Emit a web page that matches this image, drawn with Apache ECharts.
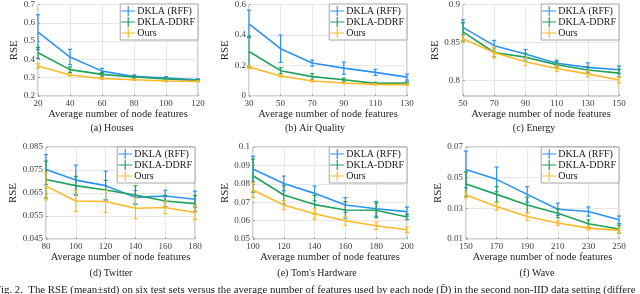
<!DOCTYPE html>
<html><head><meta charset="utf-8">
<script src="https://cdn.jsdelivr.net/npm/echarts@6/dist/echarts.min.js"></script>
<style>html,body{margin:0;padding:0;background:#fff}#c{width:640px;height:294px}</style>
</head><body><div id="c"></div>
<script>
// ---------- data ----------
const seriesNames = ['DKLA (RFF)', 'DKLA-DDRF', 'Ours'];
const captions = ['(a) Houses', '(b) Air Quality', '(c) Energy', '(d) Twitter', "(e) Tom's Hardware", '(f) Wave'];
const xLabelText = 'Average number of node features';
const yLabelText = 'RSE';

const housesX = [20, 40, 60, 80, 100, 120];
const housesRffMean = [0.549, 0.413, 0.336, 0.307, 0.298, 0.289];
const housesRffStd = [0.095, 0.042, 0.015, 0.008, 0.008, 0.005];
const housesDdrfMean = [0.436, 0.344, 0.318, 0.304, 0.293, 0.285];
const housesDdrfStd = [0.03, 0.015, 0.01, 0.006, 0.006, 0.004];
const housesOursMean = [0.364, 0.315, 0.296, 0.289, 0.282, 0.280];
const housesOursStd = [0.012, 0.006, 0.005, 0.004, 0.004, 0.003];

const airX = [30, 50, 70, 90, 110, 130];
const airRffMean = [0.473, 0.31, 0.216, 0.183, 0.155, 0.124];
const airRffStd = [0.09, 0.09, 0.02, 0.04, 0.02, 0.02];
const airDdrfMean = [0.292, 0.166, 0.127, 0.107, 0.083, 0.085];
const airDdrfStd = [0.1, 0.02, 0.02, 0.01, 0.007, 0.007];
const airOursMean = [0.19, 0.131, 0.098, 0.085, 0.076, 0.074];
const airOursStd = [0.01, 0.007, 0.006, 0.005, 0.004, 0.004];

const energyX = [50, 70, 90, 110, 130, 150];
const energyRffMean = [0.870, 0.846, 0.835, 0.823, 0.8175, 0.8145];
const energyRffStd = [0.01, 0.007, 0.006, 0.004, 0.006, 0.005];
const energyDdrfMean = [0.864, 0.837, 0.831, 0.821, 0.814, 0.810];
const energyDdrfStd = [0.012, 0.006, 0.005, 0.004, 0.004, 0.005];
const energyOursMean = [0.855, 0.837, 0.825, 0.816, 0.809, 0.801];
const energyOursStd = [0.005, 0.007, 0.005, 0.004, 0.004, 0.004];

const twitterX = [80, 100, 120, 140, 160, 180];
const twitterRffMean = [0.0752, 0.0706, 0.0682, 0.0631, 0.0637, 0.0623];
const twitterRffStd = [0.0065, 0.0065, 0.0063, 0.003, 0.0025, 0.0035];
const twitterDdrfMean = [0.0709, 0.0682, 0.0663, 0.0641, 0.0615, 0.0604];
const twitterDdrfStd = [0.008, 0.004, 0.0042, 0.004, 0.0025, 0.0035];
const twitterOursMean = [0.068, 0.0615, 0.0613, 0.0584, 0.0587, 0.0565];
const twitterOursStd = [0.006, 0.0045, 0.0048, 0.0045, 0.0027, 0.003];

const tomsX = [100, 120, 140, 160, 180, 200];
const tomsRffMean = [0.088, 0.0802, 0.0748, 0.0685, 0.0664, 0.0649];
const tomsRffStd = [0.007, 0.004, 0.004, 0.004, 0.004, 0.0025];
const tomsDdrfMean = [0.0844, 0.0739, 0.0687, 0.0658, 0.0656, 0.062];
const tomsDdrfStd = [0.009, 0.005, 0.005, 0.0045, 0.004, 0.0015];
const tomsOursMean = [0.0766, 0.0685, 0.0637, 0.0599, 0.0572, 0.055];
const tomsOursStd = [0.004, 0.0025, 0.003, 0.0025, 0.002, 0.0015];

const waveX = [150, 170, 190, 210, 230, 250];
const waveRffMean = [0.0553, 0.0489, 0.0391, 0.0294, 0.0279, 0.0225];
const waveRffStd = [0.012, 0.008, 0.005, 0.004, 0.003, 0.0025];
const waveDdrfMean = [0.0458, 0.0391, 0.0322, 0.0268, 0.020, 0.0165];
const waveDdrfStd = [0.008, 0.005, 0.005, 0.003, 0.0025, 0.0025];
const waveOursMean = [0.0387, 0.0312, 0.0247, 0.0204, 0.0171, 0.0156];
const waveOursStd = [0.002, 0.0025, 0.0025, 0.0015, 0.0012, 0.0015];

// axis tick settings
const xRanges = [[20, 120, 20], [30, 130, 20], [50, 150, 20], [80, 180, 20], [100, 200, 20], [150, 250, 20]];
const yRanges = [[0.2, 0.7, 0.1], [0, 0.6, 0.2], [0.78, 0.9, null], [0.045, 0.085, 0.01], [0.05, 0.1, 0.01], [0.01, 0.07, 0.02]];
const energyYTicks = [0.8, 0.85, 0.9];

const datasets = [
  [housesX, housesRffMean, housesRffStd, housesDdrfMean, housesDdrfStd, housesOursMean, housesOursStd],
  [airX, airRffMean, airRffStd, airDdrfMean, airDdrfStd, airOursMean, airOursStd],
  [energyX, energyRffMean, energyRffStd, energyDdrfMean, energyDdrfStd, energyOursMean, energyOursStd],
  [twitterX, twitterRffMean, twitterRffStd, twitterDdrfMean, twitterDdrfStd, twitterOursMean, twitterOursStd],
  [tomsX, tomsRffMean, tomsRffStd, tomsDdrfMean, tomsDdrfStd, tomsOursMean, tomsOursStd],
  [waveX, waveRffMean, waveRffStd, waveDdrfMean, waveDdrfStd, waveOursMean, waveOursStd]
];

// ---------- layout / style ----------
const FONT = 'Liberation Serif';
const colors = ['#2C93F4', '#1FA25A', '#FFB927'];
const grids = [
  {left: 38, top: 4, width: 160, height: 92},
  {left: 249, top: 4, width: 158, height: 92},
  {left: 463, top: 4, width: 156, height: 92},
  {left: 46, top: 147, width: 149, height: 92},
  {left: 253, top: 147, width: 154, height: 92},
  {left: 466, top: 147, width: 153, height: 92}
];
const yNameGaps = [13, 14, 17, 21, 19, 21];
const captionPos = [[112, 128], [315, 128], [534, 128], [111, 273], [317, 273], [537, 273]];

const option = {
  animation: false,
  backgroundColor: '#fff',
  grid: grids.map(g => Object.assign({show: true, borderColor: '#a6a6a6', borderWidth: 1, backgroundColor: 'transparent'}, g)),
  xAxis: [], yAxis: [], series: [], legend: [], graphic: []
};

const fmt = v => String(+v.toFixed(4));

grids.forEach((g, i) => {
  const xr = xRanges[i], yr = yRanges[i];
  option.xAxis.push({
    type: 'value', gridIndex: i, min: xr[0], max: xr[1], interval: xr[2],
    name: xLabelText, nameLocation: 'middle', nameGap: 12,
    nameTextStyle: {fontFamily: FONT, fontSize: 10.5, color: '#262626'},
    axisLine: {show: false},
    axisTick: {show: true, inside: true, length: 2, lineStyle: {color: '#a6a6a6'}},
    axisLabel: {fontFamily: FONT, fontSize: 9, color: '#404040', margin: 3, formatter: fmt},
    splitLine: {show: true, lineStyle: {color: '#e8e8e8', width: 1}}
  });
  const ya = {
    type: 'value', gridIndex: i, min: yr[0], max: yr[1],
    name: yLabelText, nameLocation: 'middle', nameGap: yNameGaps[i],
    nameTextStyle: {fontFamily: FONT, fontSize: 11, color: '#262626'},
    axisLine: {show: false},
    axisTick: {show: true, inside: true, length: 2, lineStyle: {color: '#a6a6a6'}},
    axisLabel: {fontFamily: FONT, fontSize: 9, color: '#404040', margin: 3, formatter: fmt},
    splitLine: {show: true, lineStyle: {color: '#e8e8e8', width: 1}}
  };
  if (yr[2] !== null) ya.interval = yr[2];
  else {
    ya.axisLabel.customValues = energyYTicks;
    ya.axisTick.customValues = energyYTicks;
  }
  option.yAxis.push(ya);

  const d = datasets[i];
  const xs = d[0];
  for (let s = 0; s < 3; s++) {
    const mean = d[1 + 2 * s], std = d[2 + 2 * s];
    option.series.push({
      type: 'line', name: seriesNames[s], xAxisIndex: i, yAxisIndex: i,
      data: xs.map((x, k) => [x, mean[k]]),
      symbol: 'none', lineStyle: {color: colors[s], width: 1.6},
      itemStyle: {color: colors[s]}, z: 3 + s
    });
    option.series.push({
      type: 'custom', name: seriesNames[s], xAxisIndex: i, yAxisIndex: i,
      data: xs.map((x, k) => [x, mean[k] - std[k], mean[k] + std[k]]),
      itemStyle: {color: colors[s]}, z: 3 + s, clip: false,
      renderItem: (params, api) => {
        const lo = api.coord([api.value(0), api.value(1)]);
        const hi = api.coord([api.value(0), api.value(2)]);
        const c = 2;
        const st = {stroke: colors[s], lineWidth: 1.2};
        return {type: 'group', children: [
          {type: 'line', shape: {x1: lo[0], y1: lo[1], x2: hi[0], y2: hi[1]}, style: st},
          {type: 'line', shape: {x1: lo[0] - c, y1: lo[1], x2: lo[0] + c, y2: lo[1]}, style: st},
          {type: 'line', shape: {x1: hi[0] - c, y1: hi[1], x2: hi[0] + c, y2: hi[1]}, style: st}
        ]};
      }
    });
  }

  option.legend.push({
    data: seriesNames, orient: 'vertical',
    right: 640 - (g.left + g.width), top: g.top,
    icon: 'path://M0,4.4H14V5.6H0Z M6.4,0H7.6V10H6.4Z',
    itemWidth: 14, itemHeight: 10, itemGap: 1,
    padding: [2, 3, 2, 1],
    backgroundColor: '#fff', borderColor: '#a6a6a6', borderWidth: 1,
    textStyle: {fontFamily: FONT, fontSize: 10, color: '#1a1a1a', padding: [0, 0, 0, -3]},
    selectedMode: false, z: 10
  });

  option.graphic.push({
    type: 'text', x: captionPos[i][0], y: captionPos[i][1],
    style: {text: captions[i], font: '10px "' + FONT + '"', fill: '#1a1a1a', textAlign: 'center', textVerticalAlign: 'middle'}
  });
});

option.graphic.push({
  type: 'text', x: -5, y: 285,
  style: {text: 'Fig. 2.  The RSE (mean\u00b1std) on six test sets versus the average number of features used by each node (D\u0304) in the second non-IID data setting (differe',
    font: '10.8px "' + FONT + '"', fill: '#1a1a1a', textAlign: 'left', textVerticalAlign: 'top'}
});

const chart = echarts.init(document.getElementById('c'), null, {renderer: 'canvas'});
chart.setOption(option);
</script></body></html>
